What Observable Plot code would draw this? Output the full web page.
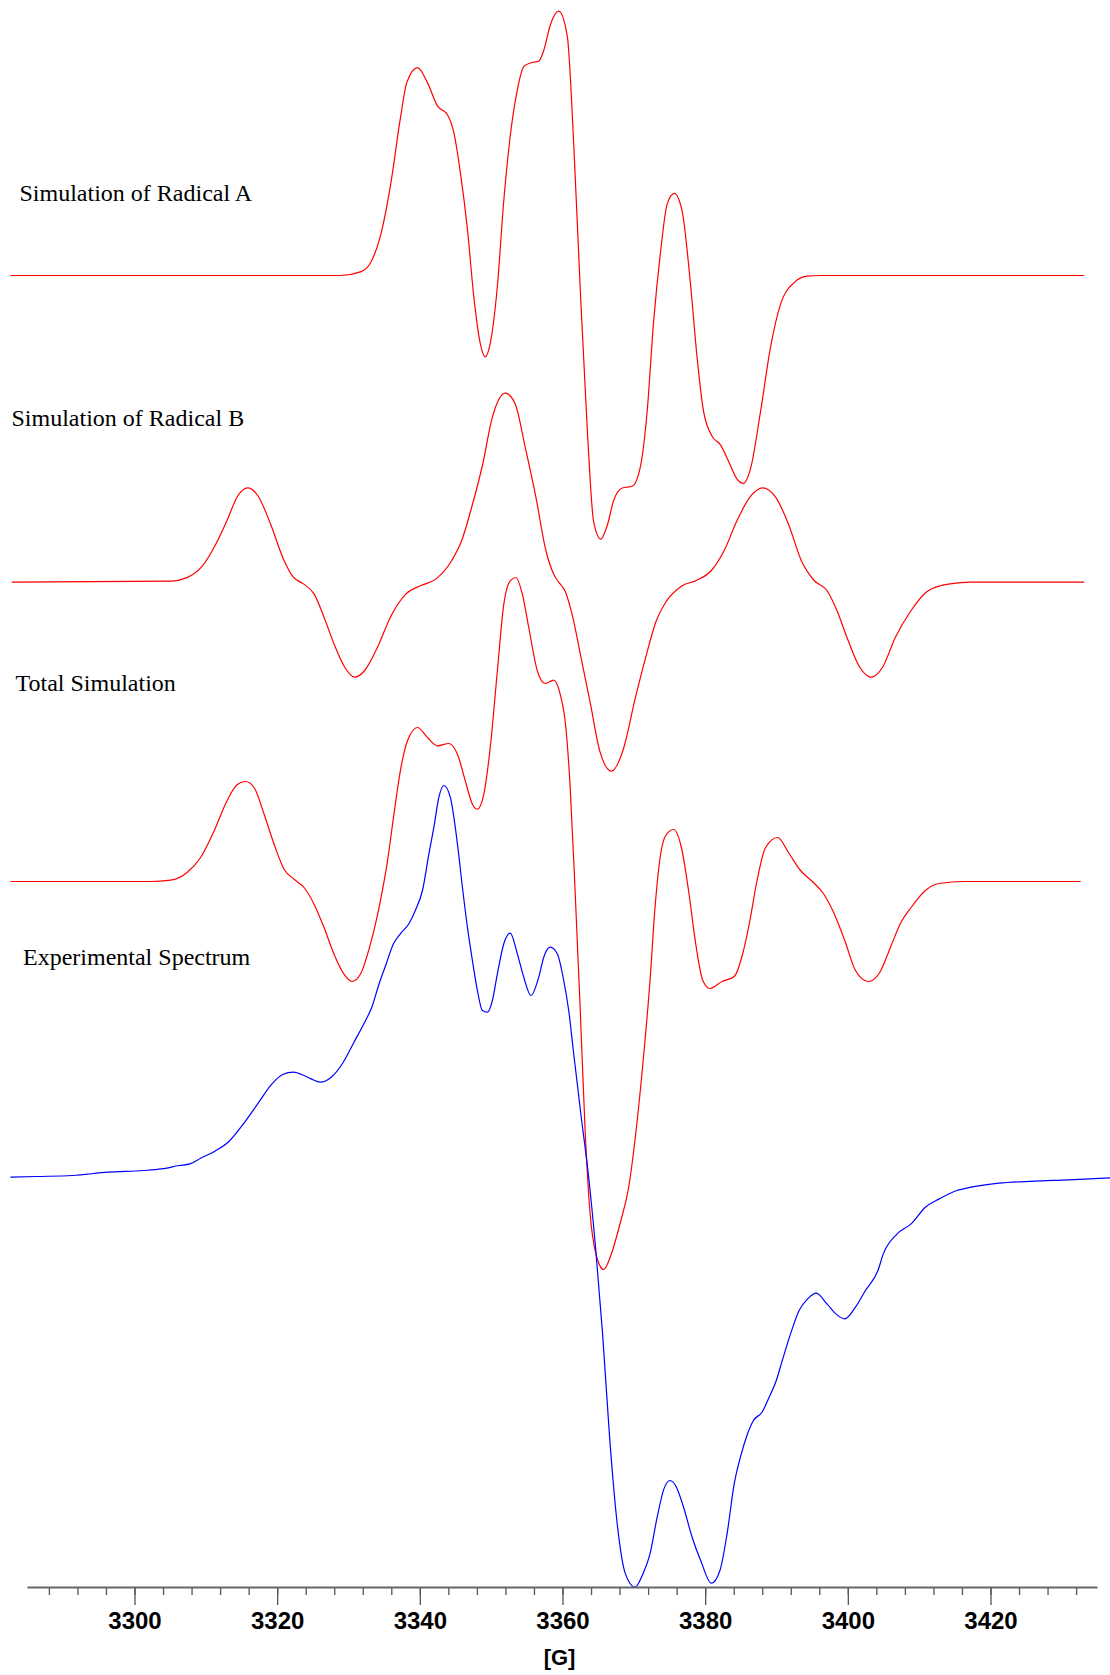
<!DOCTYPE html>
<html>
<head>
<meta charset="utf-8">
<script src="https://cdn.jsdelivr.net/npm/d3@7"></script>
<script src="https://cdn.jsdelivr.net/npm/@observablehq/plot@0.6"></script>
<style>
  html, body { margin: 0; padding: 0; background: #fff; }
  #chart svg { display: block; }
</style>
</head>
<body>
<div id="chart"></div>
<script>
// ---- Data (magnetic field in Gauss, derivative intensity in arbitrary units) ----
const fieldA = [3282.6,3328.8,3331.6,3333.0,3334.4,3335.8,3337.2,3338.1,3339.6,3341.0,3342.4,3343.8,3344.7,3345.6,3346.6,3347.5,3348.4,3349.1,3349.8,3350.8,3351.7,3352.6,3353.6,3354.5,3355.4,3356.6,3357.3,3358.2,3359.4,3360.6,3361.5,3362.4,3363.4,3364.3,3365.3,3366.2,3367.1,3368.3,3369.7,3370.9,3371.8,3372.7,3373.7,3374.6,3375.6,3376.7,3377.9,3378.8,3379.7,3380.9,3382.1,3383.2,3384.4,3385.3,3386.3,3387.7,3389.1,3390.5,3392.4,3394.2,3396.1,3433.0];
const radicalA = [0,0,3.6,12.5,39.3,89.3,157.1,192.9,207.9,192.9,169.6,160.7,142.9,103.6,46.4,-21.4,-67.9,-81.4,-67.9,-10.7,75,139.3,185.7,208.9,212.5,214.3,225,250,264.3,239.3,132.1,-10.7,-153.6,-246.4,-263.6,-250,-225,-212.5,-210.7,-189.3,-135.7,-46.4,25,71.4,82.1,64.3,-10.7,-82.1,-135.7,-160.7,-169.6,-185.7,-203.6,-207.9,-192.9,-135.7,-71.4,-28.6,-7.1,-0.7,0,0];

const fieldB = [3282.8,3305.0,3307.2,3309.3,3311.1,3312.9,3314.3,3315.8,3317.2,3319.0,3320.8,3322.2,3323.6,3325.1,3326.5,3327.9,3329.4,3330.8,3332.2,3334.0,3335.8,3338.0,3340.1,3342.2,3344.4,3345.8,3347.2,3348.7,3350.1,3351.9,3353.3,3354.7,3356.2,3357.6,3358.7,3359.4,3360.3,3361.2,3362.6,3363.8,3365.2,3366.8,3368.5,3370.1,3371.6,3373.0,3374.4,3376.6,3378.7,3380.8,3382.6,3384.4,3386.2,3388.0,3389.8,3391.6,3393.4,3395.2,3397.0,3398.4,3399.8,3401.6,3403.2,3404.8,3406.6,3408.8,3410.9,3413.0,3414.3,3417.0,3433.0];
const radicalB = [0,1,4.3,15,35,61.7,85,94.3,86.7,58.3,23.3,5,-1.7,-11.7,-35,-61.7,-85,-95,-88.3,-65,-35,-11.7,-3.3,3.3,21.7,41.7,75,116.7,165,189,178.3,135,85,31.7,8,0,-9,-30,-78,-120,-170,-189,-166,-117,-75,-40,-20,-4,1.7,11.7,31.7,61.7,85,94.3,85,58.3,21.7,1.7,-8.3,-28.3,-55,-85,-95,-85,-55,-28.3,-10,-3.3,-1.7,0,0];

const fieldT = [3282.6,3302.2,3305.0,3307.3,3309.2,3311.1,3312.9,3314.3,3315.5,3316.7,3318.1,3319.5,3320.9,3322.3,3323.7,3325.1,3326.5,3327.9,3329.3,3330.4,3331.6,3333.0,3334.4,3335.4,3336.3,3337.2,3338.2,3339.6,3341.0,3342.4,3344.0,3345.2,3346.3,3347.3,3348.0,3348.9,3349.8,3350.8,3351.7,3352.6,3353.4,3354.3,3355.2,3356.4,3357.5,3358.7,3359.6,3360.4,3361.0,3361.7,3362.4,3363.1,3363.8,3364.6,3365.7,3366.8,3368.0,3369.2,3370.2,3371.2,3372.2,3372.9,3373.7,3374.4,3375.5,3376.6,3377.6,3378.6,3379.6,3380.6,3382.3,3384.0,3385.2,3386.2,3387.2,3388.4,3390.1,3391.6,3393.3,3395.1,3396.5,3398.0,3399.5,3401.0,3402.8,3404.4,3405.9,3407.3,3408.8,3410.8,3412.7,3416.2,3432.5];
const totalSim = [0,0,1.3,9,24,50.7,80.7,96.7,100,94,67.3,37.3,12.3,2.3,-6,-22.7,-46,-72.7,-92.7,-100,-92.7,-62.7,-19.3,20.7,67.3,110.7,140.7,154,144,135.7,138,127.3,100.7,77.3,72.3,87.3,134,210.7,277.3,300.7,304,287.3,254,210.7,198,201.3,187.3,154,95,-10,-125,-249,-332,-372,-388,-372,-342,-306,-252,-182,-99,-26,28,46,52,34,-9,-62,-99,-107,-100,-95,-72,-39,1,34,44,29,11,-1,-12,-32,-59,-89,-100,-91,-66,-42,-26,-9,-2,0,0];

const fieldE = [3282.6,3286.2,3291.2,3296.2,3301.2,3303.7,3306.2,3307.7,3309.2,3311.2,3313.2,3315.2,3317.2,3319.2,3320.7,3322.2,3323.7,3324.7,3326.0,3327.5,3329.2,3330.7,3332.2,3333.2,3334.2,3335.2,3336.2,3337.2,3338.4,3339.3,3340.3,3341.2,3341.9,3342.6,3343.3,3344.2,3345.2,3345.9,3346.6,3347.3,3348.0,3348.7,3349.4,3350.1,3350.8,3351.7,3352.6,3353.6,3354.5,3355.5,3356.6,3357.3,3358.2,3359.2,3360.1,3360.8,3361.5,3362.5,3363.6,3364.6,3365.55,3366.5,3367.5,3368.75,3370.1,3371.2,3372.2,3373.2,3374.15,3375.0,3375.9,3376.9,3378.1,3379.3,3380.8,3382.0,3383.0,3384.0,3385.0,3385.7,3386.7,3387.9,3388.9,3389.9,3390.6,3391.9,3393.1,3394.3,3395.5,3397.0,3398.25,3399.5,3401.0,3402.4,3404.15,3404.9,3406.85,3408.8,3410.8,3412.75,3415.2,3417.2,3421.1,3426.0,3430.9,3436.8];
const experimental = [0,0.7,1.7,5,6.7,8.3,11.7,13.3,19,26,36,53.3,73.3,93.3,102.7,105,101.7,98.3,95,100,115,135,155,170,193,213,233,243.4,253.4,266.7,286.7,323.4,350,380,391.7,380,333.4,290,250,216.7,186.7,166.7,165,176.7,203.4,233.4,244,223.4,200,181.7,200,220,230,223.4,196.7,166.7,123.4,63.4,0,-73.3,-156.7,-256.7,-340,-396.7,-410,-396.7,-376.7,-340,-311.7,-303.3,-310,-330,-360,-383.3,-406,-393.3,-356.7,-306.7,-276.7,-260,-243.3,-235,-220,-203.3,-186.7,-156.7,-133.3,-121.7,-116,-126.7,-136.7,-141.7,-130,-113.3,-93.3,-76.7,-56.7,-46.7,-30,-21.7,-13.3,-10,-6,-4,-2.7,-0.7];

const seriesNames = ["Simulation of Radical A", "Simulation of Radical B", "Total Simulation", "Experimental Spectrum"];
const majorTicks = [3300, 3320, 3340, 3360, 3380, 3400, 3420];
const minorTicks = d3.range(3288, 3433, 4);
const axisLabel = "[G]";

// ---- Layout (stack offsets, label placement, styles) ----
const stackOffset = [1312, 1005.3, 706, 410.3];
const seriesColor = ["#ff0000", "#ff0000", "#ff0000", "#0000ff"];
const labelPos = [[19, 200], [11, 425], [15, 690], [22.5, 964]];

const fields = [fieldA, fieldB, fieldT, fieldE];
const values = [radicalA, radicalB, totalSim, experimental];
const rows = [];
seriesNames.forEach((name, i) => {
  fields[i].forEach((f, j) => {
    rows.push({series: name, field: f, value: values[i][j], y: values[i][j] + stackOffset[i]});
  });
});

const W = 1110, H = 1675, mL = 27.5, mR = 12.5, mB = 88;

const labelMarks = seriesNames.map((name, i) =>
  Plot.text([name], {
    frameAnchor: "top-left",
    dx: labelPos[i][0] - mL,
    dy: labelPos[i][1],
    textAnchor: "start",
    lineAnchor: "bottom",
    fontFamily: "Liberation Serif, Times New Roman, serif",
    fontSize: 24,
    fill: "#000"
  })
);

const chart = Plot.plot({
  width: W,
  height: H,
  marginLeft: mL,
  marginRight: mR,
  marginTop: 0,
  marginBottom: mB,
  style: {background: "#fff", color: "#000", fontFamily: "Liberation Sans, Arial, sans-serif"},
  x: {domain: [3285, 3435]},
  y: {domain: [0, H - mB], axis: null},
  color: {domain: seriesNames, range: seriesColor},
  marks: [
    Plot.line(rows, {
      x: "field", y: "y", z: "series", stroke: "series",
      curve: "monotone-x", strokeWidth: 1.2
    }),
    Plot.axisX({
      ticks: minorTicks, tickSize: 8, tickFormat: () => "", label: null,
      stroke: "#555", strokeWidth: 1.3
    }),
    Plot.axisX({
      ticks: majorTicks, tickSize: 18, tickPadding: 6, tickFormat: d => String(d), label: null,
      stroke: "#555", strokeWidth: 1.3,
      fontSize: 24, fontWeight: "bold", fontFamily: "Liberation Sans, Arial, sans-serif", fill: "#000"
    }),
    Plot.ruleY([0], {stroke: "#666", strokeWidth: 2}),
    Plot.text([axisLabel], {
      frameAnchor: "bottom", dx: -3.5, dy: 77, lineAnchor: "bottom",
      fontSize: 22, fontWeight: "bold", fontFamily: "Liberation Sans, Arial, sans-serif", fill: "#000"
    }),
    ...labelMarks
  ]
});

document.getElementById("chart").appendChild(chart);
</script>
</body>
</html>
